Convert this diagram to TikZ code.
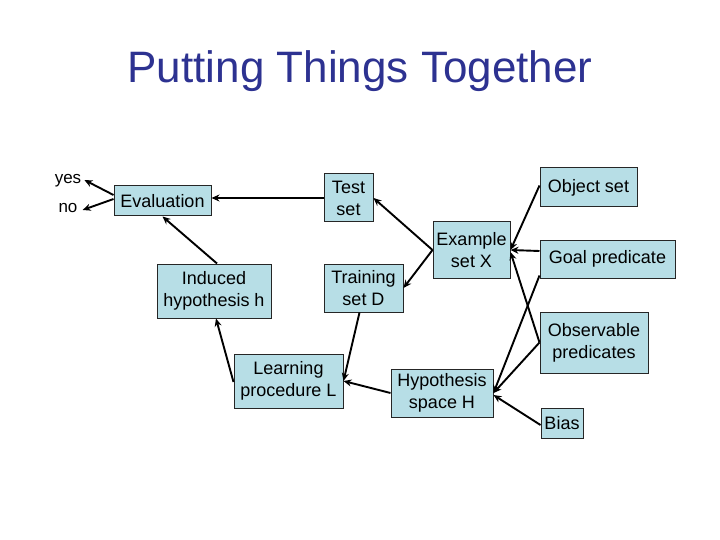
\documentclass[tikz,border=0pt]{standalone}
\usepackage{fontspec}
\setmainfont{Liberation Sans}
\usetikzlibrary{arrows.meta}
\definecolor{boxfill}{RGB}{183,222,230}
\definecolor{titleblue}{RGB}{45,50,145}
\begin{document}
\begin{tikzpicture}[x=1pt,y=-1pt,
 box/.style={draw=black!85,line width=1pt,fill=boxfill,inner sep=0pt,align=center,font=\fontsize{18}{22}\selectfont},
 conn/.style={line width=1.9pt,-{Stealth[length=8pt,width=7pt]}},
 lbl/.style={font=\fontsize{17}{20}\selectfont,inner sep=1pt}]
\useasboundingbox (0,0) rectangle (720,540);
\node[font=\fontsize{44}{50}\selectfont,text=titleblue,anchor=base] (title) at (360,83) {Putting Things Together};
\node[lbl] (yes) at (68,181) {yes};
\node[lbl] (no) at (68,208) {no};
\node[box,minimum width=97pt,minimum height=30pt] (eval) at (162.5,201) {Evaluation};
\node[box,minimum width=49pt,minimum height=48pt] (test) at (348.5,198) {Test\\set};
\node[box,minimum width=79pt,minimum height=48pt] (train) at (363.5,288) {Training\\set D};
\node[box,minimum width=77pt,minimum height=56pt] (example) at (471.5,250) {Example\\set X};
\node[box,minimum width=97pt,minimum height=39pt] (object) at (588.5,187.5) {Object set};
\node[box,minimum width=135pt,minimum height=38pt] (goal) at (607.5,259) {Goal predicate};
\node[box,minimum width=108pt,minimum height=61pt] (obs) at (594,342.5) {Observable\\predicates};
\node[box,minimum width=42pt,minimum height=30pt] (bias) at (562,423) {Bias};
\node[box,minimum width=114pt,minimum height=54pt] (induced) at (214,291) {Induced\\hypothesis h};
\node[box,minimum width=109pt,minimum height=54pt] (learn) at (288.5,381) {Learning\\procedure L};
\node[box,minimum width=102pt,minimum height=48pt] (hyp) at (442,393) {Hypothesis\\space H};
% connectors
\draw[conn] ([yshift=6pt]eval.west) -- ([xshift=2pt,yshift=1pt]yes.east);
\draw[conn] ([yshift=2pt]eval.west) -- ([xshift=4pt,yshift=-2pt]no.east);
\draw[conn] ([yshift=0pt]test.west) -- ([yshift=3pt]eval.east);
\draw[conn] ([xshift=3pt]induced.north) -- (eval.south);
\draw[conn] ([yshift=-1pt]learn.west) -- ([xshift=2pt]induced.south);
\draw[conn] ([xshift=-4pt]train.south) -- (learn.east);
\draw[conn] (hyp.west) -- (learn.east);
\draw[conn] (example.west) -- (test.east);
\draw[conn] (example.west) -- (train.east);
\draw[conn] ([yshift=2pt]object.west) -- (example.east);
\draw[conn] ([yshift=8pt]goal.west) -- (example.east);
\draw[conn] (obs.west) -- ([yshift=-2pt]example.east);
\draw[conn] ([yshift=3pt]goal.south west) -- (hyp.east);
\draw[conn] (obs.west) -- (hyp.east);
\draw[conn] ([yshift=-2pt]bias.west) -- ([yshift=-2pt]hyp.east);
\end{tikzpicture}
\end{document}
